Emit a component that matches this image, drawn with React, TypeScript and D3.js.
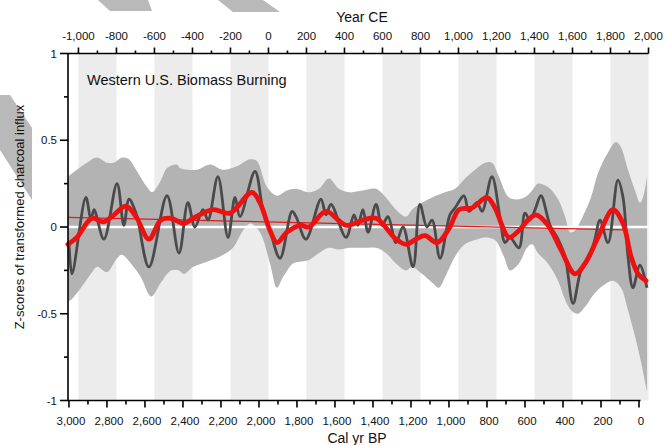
import React from 'react';
import * as d3 from 'd3';

// Charcoal influx composite (cal yr BP, z-score)
const charcoalSeries: [number, number][] = [
  [3000, -0.08], [2984, -0.27], [2911, 0.17], [2884, 0.04], [2868, 0.1], [2816, -0.07],
  [2747, 0.25], [2711, 0.01], [2684, 0.16], [2647, 0.08], [2579, -0.23], [2484, 0.18],
  [2421, -0.15], [2374, 0.14], [2337, 0.0], [2295, 0.1], [2268, 0.04], [2216, 0.29],
  [2163, -0.06], [2126, 0.17], [2100, 0.06], [2021, 0.32], [1979, 0.1], [1942, -0.02],
  [1889, -0.18], [1826, 0.09], [1805, 0.06], [1753, -0.07], [1674, 0.16], [1647, 0.07],
  [1621, 0.13], [1542, -0.06], [1500, 0.07], [1479, 0.01], [1453, 0.1], [1426, -0.03],
  [1384, 0.13], [1353, 0.01], [1321, 0.06], [1279, -0.09], [1242, 0.0], [1189, -0.23],
  [1153, 0.13], [1116, 0.0], [1089, 0.04], [1047, -0.18], [995, 0.07], [968, 0.11],
  [921, 0.18], [895, 0.09], [853, 0.14], [826, 0.09], [774, 0.29], [732, 0.06],
  [705, -0.09], [679, -0.06], [632, -0.12], [600, 0.08], [574, 0.04], [547, 0.1],
  [516, 0.18], [468, 0.01], [426, -0.07], [389, -0.17], [347, -0.44], [305, -0.25],
  [258, -0.17], [232, -0.07], [205, 0.04], [163, -0.09], [111, 0.27], [84, 0.17],
  [58, -0.17], [32, -0.35], [-5, -0.22], [-42, -0.35],
];

// Smoothed record
const smoothSeries: [number, number][] = [
  [3005, -0.1], [2958, -0.06], [2879, 0.05], [2816, 0.03], [2763, 0.07], [2700, 0.12],
  [2647, 0.06], [2579, -0.07], [2516, 0.04], [2463, 0.05], [2395, 0.02], [2347, 0.05],
  [2242, 0.1], [2153, 0.08], [2037, 0.2], [1995, 0.14], [1942, -0.02], [1905, -0.09],
  [1853, -0.03], [1784, 0.01], [1737, 0.0], [1647, 0.09], [1542, 0.01], [1453, 0.04],
  [1384, 0.05], [1279, -0.07], [1226, -0.1], [1174, -0.07], [1126, -0.05], [1063, -0.09],
  [1000, -0.01], [947, 0.1], [879, 0.11], [800, 0.17], [758, 0.11], [684, -0.06],
  [632, -0.02], [584, 0.04], [542, 0.07], [479, 0.01], [411, -0.13], [337, -0.27],
  [284, -0.21], [216, -0.06], [137, 0.1], [84, 0.02], [42, -0.17], [5, -0.27], [-37, -0.31],
];

// Confidence envelope, upper and lower bounds
const envelopeUpper: [number, number][] = [
  [3005, 0.29], [2958, 0.33], [2905, 0.37], [2853, 0.4], [2800, 0.37], [2763, 0.37],
  [2721, 0.4], [2684, 0.39], [2647, 0.33], [2589, 0.23], [2563, 0.2], [2516, 0.27],
  [2484, 0.34], [2432, 0.36], [2416, 0.34], [2326, 0.33], [2258, 0.36], [2190, 0.33],
  [2116, 0.35], [2047, 0.39], [2011, 0.38], [1958, 0.23], [1905, 0.18], [1853, 0.21],
  [1805, 0.22], [1737, 0.2], [1684, 0.22], [1632, 0.28], [1579, 0.22], [1526, 0.2],
  [1453, 0.21], [1384, 0.22], [1332, 0.17], [1279, 0.1], [1226, 0.06], [1195, 0.1],
  [1142, 0.14], [1089, 0.17], [1021, 0.2], [968, 0.22], [916, 0.28], [863, 0.33],
  [811, 0.37], [774, 0.37], [737, 0.29], [684, 0.17], [632, 0.16], [589, 0.18],
  [563, 0.21], [532, 0.25], [479, 0.23], [426, 0.16], [389, 0.06], [363, -0.03],
  [337, -0.02], [305, 0.04], [253, 0.17], [216, 0.31], [163, 0.43], [121, 0.49],
  [95, 0.46], [58, 0.33], [21, 0.21], [-5, 0.14], [-21, 0.17], [-42, 0.29],
];

const envelopeLower: [number, number][] = [
  [3005, -0.43], [2989, -0.42], [2937, -0.35], [2884, -0.27], [2853, -0.23], [2800, -0.26],
  [2747, -0.18], [2721, -0.16], [2674, -0.21], [2621, -0.29], [2579, -0.39], [2563, -0.4],
  [2516, -0.32], [2463, -0.25], [2421, -0.25], [2395, -0.27], [2347, -0.23], [2274, -0.2],
  [2205, -0.17], [2137, -0.12], [2084, -0.02], [2047, 0.02], [1995, -0.03], [1942, -0.21],
  [1905, -0.35], [1874, -0.29], [1821, -0.21], [1784, -0.2], [1737, -0.19], [1684, -0.15],
  [1632, -0.12], [1579, -0.13], [1526, -0.12], [1453, -0.12], [1384, -0.12], [1332, -0.15],
  [1279, -0.21], [1226, -0.25], [1195, -0.23], [1142, -0.27], [1089, -0.32], [1053, -0.35],
  [1021, -0.29], [968, -0.17], [916, -0.1], [863, -0.075], [811, -0.06], [758, -0.075],
  [711, -0.17], [679, -0.25], [632, -0.21], [589, -0.12], [563, -0.1], [532, -0.15],
  [479, -0.21], [426, -0.31], [389, -0.42], [358, -0.48], [321, -0.5], [284, -0.46],
  [232, -0.38], [179, -0.33], [137, -0.31], [95, -0.35], [58, -0.48], [21, -0.63],
  [-11, -0.78], [-42, -0.95],
];

// Linear trend of the record
const trendLine: [number, number][] = [[3005, 0.055], [80, -0.017]];

// Shaded 200-year intervals (years CE, start of interval)
const bandStartsCE = [-1000, -600, -200, 200, 600, 1000, 1400, 1800];
const bandWidthYears = 200;

const bottomTicks = [3000, 2800, 2600, 2400, 2200, 2000, 1800, 1600, 1400, 1200, 1000, 800, 600, 400, 200, 0];
const topTicks = [-1000, -800, -600, -400, -200, 0, 200, 400, 600, 800, 1000, 1200, 1400, 1600, 1800, 2000];
const yTicks = [1, 0.5, 0, -0.5, -1];
const yMinorTicks = [0.75, 0.25, -0.25, -0.75];

const W = 665;
const H = 445;
const FONT = '"Liberation Sans", Arial, Helvetica, sans-serif';

// thousands separator with a plain hyphen for negatives
const fmt = (v: number) => d3.format(',')(v).replace('\u2212', '-');
const fmtY = (v: number) => String(v);

export default function App() {
  const x = d3.scaleLinear().domain([3005, -50]).range([68, 648.5]);
  const xCE = d3.scaleLinear().domain([1950 - 3005, 1950 + 50]).range([68, 648.5]);
  const y = d3.scaleLinear().domain([-1, 1]).range([400.5, 53.5]);
  const top = y(1);
  const bottom = y(-1);
  const left = x(3005);
  const right = x(-50);

  const line = d3
    .line<[number, number]>()
    .x((d) => x(d[0]))
    .y((d) => y(d[1]))
    .curve(d3.curveCatmullRom.alpha(0.5));

  const upperPath = line(envelopeUpper) || '';
  const lowerPath = line([...envelopeLower].reverse()) || '';
  const envelopePath = upperPath + lowerPath.replace(/^M/, 'L') + 'Z';

  const trend =
    d3
      .line<[number, number]>()
      .x((d) => x(d[0]))
      .y((d) => y(d[1]))(trendLine) || '';

  const bottomMinor = d3.range(2900, -1, -200);
  const topMinor = d3.range(-900, 2000, 200);

  return (
    <div style={{ position: 'absolute', left: 0, top: 0 }}>
      <svg width={W} height={H} viewBox={`0 0 ${W} ${H}`} style={{ display: 'block', background: '#fff' }}>
        {/* diagonal grey stripes */}
        <g fill="#b9b9b9">
          <polygon points="98,0 148,0 152,11 110,11" />
          <polygon points="218,0 263,0 280,12 233,12" />
          <polygon points="0,95 10,95 32,128 32,200 0,150" />
        </g>

        {/* alternating interval shading */}
        <g fill="#ececec">
          {bandStartsCE.map((s) => (
            <rect key={s} x={xCE(s)} y={top} width={xCE(s + bandWidthYears) - xCE(s)} height={bottom - top} />
          ))}
        </g>

        <path d={envelopePath} fill="#b3b3b3" stroke="none" />

        <line x1={left} x2={right} y1={y(0)} y2={y(0)} stroke="#ffffff" strokeWidth={2.5} />

        <path d={trend} fill="none" stroke="#e41a1a" strokeWidth={1.3} />

        <path d={line(charcoalSeries) || ''} fill="none" stroke="#4a4a4a" strokeWidth={2.8} strokeLinejoin="round" />

        <path d={line(smoothSeries) || ''} fill="none" stroke="#ee1111" strokeWidth={4.8} strokeLinejoin="round" strokeLinecap="round" />

        {/* left axis */}
        <g stroke="#000" strokeWidth={1.6}>
          <line x1={left} x2={left} y1={top} y2={bottom} />
          {yTicks.map((t) => (
            <line key={t} x1={left - 8} x2={left} y1={y(t)} y2={y(t)} />
          ))}
          {yMinorTicks.map((t) => (
            <line key={t} x1={left - 4} x2={left} y1={y(t)} y2={y(t)} />
          ))}
        </g>
        <g fontFamily={FONT} fontSize={11.5} fill="#111" textAnchor="end">
          {yTicks.map((t) => (
            <text key={t} x={57} y={y(t) + 4}>
              {fmtY(t)}
            </text>
          ))}
        </g>

        {/* bottom axis */}
        <g stroke="#000" strokeWidth={1.6}>
          <line x1={left} x2={right - 8} y1={bottom} y2={bottom} />
          {bottomTicks.map((t) => (
            <line key={t} x1={x(t)} x2={x(t)} y1={bottom} y2={bottom + 7} />
          ))}
          {bottomMinor.map((t) => (
            <line key={t} x1={x(t)} x2={x(t)} y1={bottom} y2={bottom + 4} />
          ))}
        </g>
        <g fontFamily={FONT} fontSize={11.5} fill="#111" textAnchor="middle">
          {bottomTicks.map((t) => (
            <text key={t} x={x(t) + 2} y={425}>
              {fmt(t)}
            </text>
          ))}
        </g>

        {/* top axis */}
        <g stroke="#000" strokeWidth={1.6}>
          <line x1={left} x2={xCE(2000)} y1={top} y2={top} />
          {topTicks.map((t) => (
            <line key={t} x1={xCE(t)} x2={xCE(t)} y1={top} y2={top - 6} />
          ))}
          {topMinor.map((t) => (
            <line key={t} x1={xCE(t)} x2={xCE(t)} y1={top} y2={top - 3} />
          ))}
        </g>
        <g fontFamily={FONT} fontSize={11.5} fill="#111" textAnchor="middle">
          {topTicks.map((t) => (
            <text key={t} x={xCE(t)} y={40}>
              {fmt(t)}
            </text>
          ))}
        </g>

        <g fontFamily={FONT} fill="#111">
          <text x={362} y={22} fontSize={14} textAnchor="middle">
            Year CE
          </text>
          <text x={357} y={443} fontSize={14} textAnchor="middle">
            Cal yr BP
          </text>
          <text transform={`translate(24,${217}) rotate(-90)`} fontSize={13} textAnchor="middle">
            Z-scores of transformed charcoal influx
          </text>
          <text x={87} y={85} fontSize={14.5}>
            Western U.S. Biomass Burning
          </text>
        </g>
      </svg>
    </div>
  );
}
